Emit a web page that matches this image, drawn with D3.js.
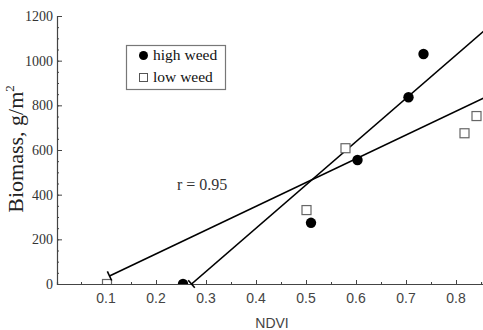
<!DOCTYPE html>
<html><head><meta charset="utf-8">
<script src="https://cdn.jsdelivr.net/npm/d3@7"></script>
<style>body{margin:0;background:#fff}svg{display:block}</style>
</head><body>
<script>
// Data
const highNDVI = [0.254, 0.510, 0.603, 0.705, 0.735];
const highBiomass = [0, 274, 555, 836, 1030];
const lowNDVI = [0.102, 0.501, 0.579, 0.817, 0.841];
const lowBiomass = [0, 331, 608, 675, 752];
// fitted regression lines (endpoints)
const highFitX = [0.271, 0.86];
const highFitY = [0, 1141];
const lowFitX = [0.107, 0.86];
const lowFitY = [36, 838];
const xTicks = [0.1, 0.2, 0.3, 0.4, 0.5, 0.6, 0.7, 0.8];
const yTicks = [0, 200, 400, 600, 800, 1000, 1200];
const legendLabels = ["high weed", "low weed"];
const rLabel = "r = 0.95";

const W = 483, H = 330;
const svg = d3.select("body").append("svg").attr("width", W).attr("height", H);
const x = d3.scaleLinear().domain([0.002, 0.854]).range([57, 483]);
const y = d3.scaleLinear().domain([0, 1200]).range([284, 16]);

svg.append("defs").append("clipPath").attr("id", "clip")
  .append("rect").attr("x", 57).attr("y", 0).attr("width", W - 57).attr("height", 284);

const axisCol = "#444";
// y axis
const yAx = svg.append("g").attr("transform", "translate(57,0)");
yAx.call(d3.axisRight(y).tickValues(d3.range(0, 1201, 50)).tickSize(2).tickFormat(""));
yAx.call(g => g.selectAll(".tick line").attr("stroke", axisCol));
yAx.select(".domain").attr("stroke", axisCol).attr("stroke-width", 1.2);
const yAx2 = svg.append("g").attr("transform", "translate(57,0)");
yAx2.call(d3.axisRight(y).tickValues(yTicks).tickSize(5).tickFormat(""));
yAx2.select(".domain").remove();
yAx2.selectAll(".tick line").attr("stroke", axisCol);
svg.append("g").selectAll("text").data(yTicks).join("text")
  .attr("x", 53).attr("y", d => y(d)).attr("dy", "0.35em")
  .attr("text-anchor", "end")
  .attr("font-family", "Liberation Serif, Times New Roman, serif")
  .attr("font-size", 14).attr("fill", "#333").text(d => d);

// x axis
const xAx = svg.append("g").attr("transform", "translate(0,284)");
xAx.call(d3.axisTop(x).tickValues(d3.range(0.05, 0.851, 0.05)).tickSize(2).tickFormat(""));
xAx.selectAll(".tick line").attr("stroke", axisCol);
xAx.select(".domain").attr("stroke", axisCol).attr("stroke-width", 1.2);
const xAx2 = svg.append("g").attr("transform", "translate(0,284)");
xAx2.call(d3.axisTop(x).tickValues(xTicks).tickSize(4).tickFormat(""));
xAx2.select(".domain").remove();
xAx2.selectAll(".tick line").attr("stroke", axisCol);
svg.append("g").selectAll("text").data(xTicks).join("text")
  .attr("x", d => x(d)).attr("y", 303).attr("text-anchor", "middle")
  .attr("font-family", "Liberation Sans, Arial, sans-serif")
  .attr("font-size", 14).attr("fill", "#444").text(d => d3.format(".1f")(d));

svg.append("text").attr("x", 272).attr("y", 328).attr("text-anchor", "middle")
  .attr("font-family", "Liberation Sans, Arial, sans-serif")
  .attr("font-size", 14).attr("fill", "#444").text("NDVI");

const yl = svg.append("text").attr("transform", "translate(23,149) rotate(-90)")
  .attr("text-anchor", "middle")
  .attr("font-family", "Liberation Serif, Times New Roman, serif")
  .attr("font-size", 22).attr("fill", "#222");
yl.append("tspan").text("Biomass, g/m");
yl.append("tspan").attr("font-size", 13).attr("dy", -9).text("2");

// plot area
const plot = svg.append("g").attr("clip-path", "url(#clip)");
const line = d3.line().x(d => x(d[0])).y(d => y(d[1]));
function drawFit(xs, ys) {
  const pts = xs.map((v, i) => [v, ys[i]]);
  plot.append("path").attr("d", line(pts)).attr("fill", "none")
    .attr("stroke", "#000").attr("stroke-width", 1.6);
  const x0 = x(xs[0]), y0 = y(ys[0]);
  const dx = x(xs[1]) - x0, dy = y(ys[1]) - y0;
  const L = Math.hypot(dx, dy);
  const px = -dy / L * 5, py = dx / L * 5;
  svg.append("line").attr("x1", x0 - px).attr("y1", y0 - py)
    .attr("x2", x0 + px).attr("y2", y0 + py)
    .attr("stroke", "#000").attr("stroke-width", 1.6);
}
drawFit(highFitX, highFitY);
drawFit(lowFitX, lowFitY);

plot.selectAll("rect.low").data(lowNDVI).join("rect").attr("class", "low")
  .attr("x", (d) => x(d) - 4.5).attr("y", (d, i) => y(lowBiomass[i]) - 4.5)
  .attr("width", 9).attr("height", 9)
  .attr("fill", "#fff").attr("stroke", "#666").attr("stroke-width", 1.2);
plot.selectAll("circle.high").data(highNDVI).join("circle").attr("class", "high")
  .attr("cx", d => x(d)).attr("cy", (d, i) => y(highBiomass[i]))
  .attr("r", 5.2).attr("fill", "#000");

svg.append("text").attr("x", 177).attr("y", 190)
  .attr("font-family", "Liberation Serif, Times New Roman, serif")
  .attr("font-size", 16).attr("fill", "#333").text(rLabel);

// legend
const lg = svg.append("g");
lg.append("rect").attr("x", 126.5).attr("y", 45.5).attr("width", 99).attr("height", 44)
  .attr("fill", "#fff").attr("stroke", "#777").attr("stroke-width", 1.2);
lg.append("circle").attr("cx", 143.5).attr("cy", 55.5).attr("r", 4.5).attr("fill", "#000");
lg.append("rect").attr("x", 139.5).attr("y", 73.5).attr("width", 8).attr("height", 8)
  .attr("fill", "#fff").attr("stroke", "#555").attr("stroke-width", 1);
lg.selectAll("text").data(legendLabels).join("text")
  .attr("x", 153).attr("y", (d, i) => 60 + i * 22)
  .attr("font-family", "Liberation Serif, Times New Roman, serif")
  .attr("font-size", 15.5).attr("fill", "#111").text(d => d);
</script>
</body></html>
